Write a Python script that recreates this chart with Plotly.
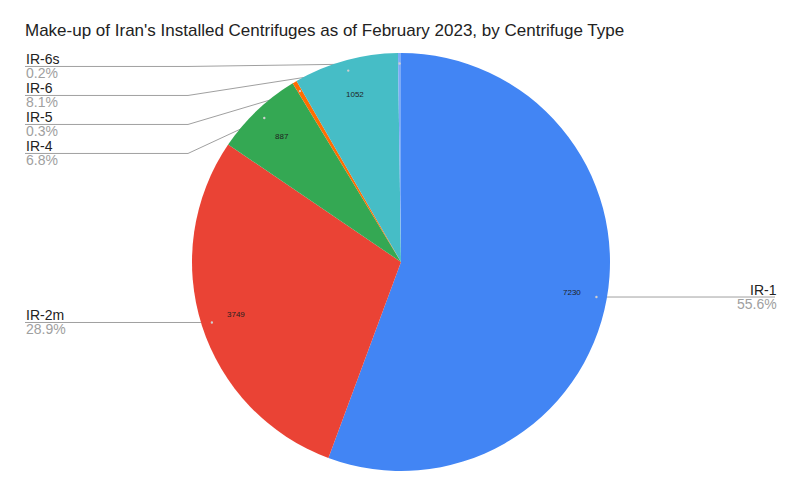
import plotly.graph_objects as go
import math

# ---- data ----
labels = ["IR-1", "IR-2m", "IR-4", "IR-5", "IR-6", "IR-6s"]
values = [7230, 3749, 887, 45, 1052, 30]
colors = ["#4285F4", "#EA4335", "#34A853", "#FF6D01", "#46BDC6", "#7BAAF7"]
title = "Make-up of Iran's Installed Centrifuges as of February 2023, by Centrifuge Type"

# ---- layout constants (pixels in the 800x497 window) ----
W, H = 800, 497
OFF = 8  # default page body margin
FW, FH = W - OFF, H - OFF
CX, CY, R = 401, 262, 209
LEFT_X, ELBOW_X, RIGHT_X = 25, 188, 778
SPACING = 29
TEXT_R = 0.83


def px(x):
    return (x - OFF) / FW


def py(y):
    return 1 - (y - OFF) / FH


total = sum(values)
fig = go.Figure(go.Pie(
    labels=labels, values=values, sort=False, direction="clockwise", rotation=0,
    marker=dict(colors=colors, line=dict(width=0)),
    textinfo="none",
    domain=dict(x=[px(CX - R), px(CX + R)], y=[py(CY + R), py(CY - R)]),
    hoverinfo="label+value+percent", showlegend=False,
))

# anchor points computed from data
anchors = []
cum = 0
for lab, v in zip(labels, values):
    mid = (cum + v / 2) / total
    cum += v
    ang = mid * 2 * math.pi
    anchors.append((lab, v, ang))

shapes = []
annotations = []


def add_label(lab, v, ax, ay, ly, side):
    pct = f"{100 * v / total:.1f}%"
    if side == "right":
        path = f"M {px(ax)} {py(ay)} L {px(RIGHT_X - 3)} {py(ly)}"
        tx, xa = RIGHT_X, "right"
    else:
        path = f"M {px(LEFT_X)} {py(ly)} L {px(ELBOW_X)} {py(ly)} L {px(ax)} {py(ay)}"
        tx, xa = LEFT_X, "left"
    shapes.append(dict(type="path", path=path, xref="paper", yref="paper",
                       line=dict(color="#a0a0a0", width=1), layer="below"))
    shapes.append(dict(type="circle", xref="paper", yref="paper",
                       x0=px(ax - 1.2), x1=px(ax + 1.2), y0=py(ay + 1.2), y1=py(ay - 1.2),
                       fillcolor="#cfcfcf", line=dict(width=0), layer="above"))
    annotations.append(dict(x=px(tx), y=py(ly), xref="paper", yref="paper",
                            text=lab, showarrow=False, xanchor=xa, yanchor="bottom",
                            yshift=-2, borderpad=0,
                            font=dict(size=14, color="#222222", family="Arial, Liberation Sans")))
    annotations.append(dict(x=px(tx), y=py(ly), xref="paper", yref="paper",
                            text=pct, showarrow=False, xanchor=xa, yanchor="top",
                            yshift=2, borderpad=0,
                            font=dict(size=14, color="#a0a0a0", family="Arial, Liberation Sans")))


right, left = [], []
for lab, v, ang in anchors:
    ax = CX + 0.95 * R * math.sin(ang)
    ay = CY - 0.95 * R * math.cos(ang)
    (right if ax > CX + 2 else left).append((lab, v, ax, ay))
    # value text inside larger slices
    if v / total > 0.02:
        annotations.append(dict(
            x=px(CX + TEXT_R * R * math.sin(ang)), y=py(CY - TEXT_R * R * math.cos(ang)),
            xref="paper", yref="paper", text=str(v), showarrow=False,
            xanchor="center", yanchor="middle",
            font=dict(size=8, color="#1f1f1f", family="Arial, Liberation Sans")))

for lab, v, ax, ay in right:
    add_label(lab, v, ax, ay, ay, "right")

# top-left cluster stacked from top, avoiding collisions
left_sorted = sorted(left, key=lambda a: a[3])
prev = None
for lab, v, ax, ay in left_sorted:
    if prev is None:
        ly = ay + 3 if ay < CY - R * 0.5 else ay
    else:
        ly = max(ay, prev + SPACING)
    prev = ly
    add_label(lab, v, ax, ay, ly, "left")

fig.update_layout(
    width=FW, height=FH,
    margin=dict(l=0, r=0, t=0, b=0),
    paper_bgcolor="white", plot_bgcolor="white",
    title=dict(text=title, x=px(LEFT_X), xanchor="left", y=py(30), yanchor="middle",
               font=dict(size=17, color="#222222", family="Arial, Liberation Sans")),
    shapes=shapes, annotations=annotations,
)

fig.write_html("out.html")
